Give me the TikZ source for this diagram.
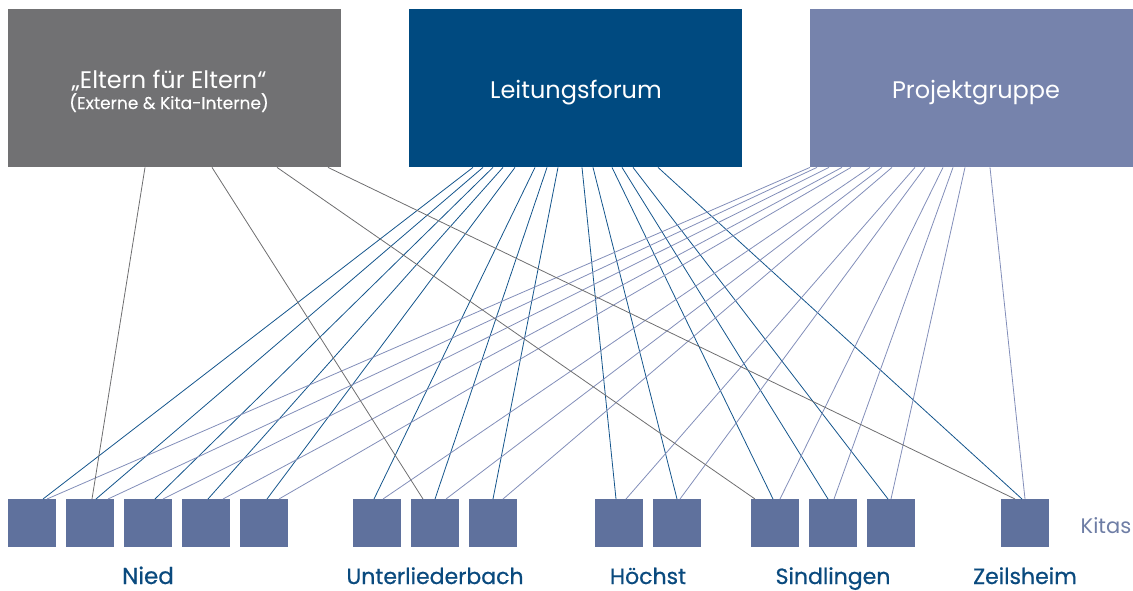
\documentclass[tikz,border=0pt]{standalone}
\usepackage{fontspec}
\setmainfont{Poppins}
\newfontfamily\labfont{Poppins}[FakeBold=0.6]
\newfontfamily\subfont{Poppins}[FakeBold=0.3]
\definecolor{elterncol}{RGB}{113,113,115}
\definecolor{leitcol}{RGB}{0,74,128}
\definecolor{projcol}{RGB}{118,131,172}
\definecolor{kitacol}{RGB}{95,113,157}
\definecolor{labcol}{RGB}{10,74,126}
\definecolor{kitastext}{RGB}{110,125,165}
\definecolor{darkline}{RGB}{20,85,140}
\definecolor{lightline}{RGB}{130,142,185}
\definecolor{greyline}{RGB}{110,110,112}
\tikzset{
  topbox/.style={rectangle, inner sep=0pt, minimum height=158pt, anchor=north west},
  toptext/.style={text=white, inner sep=0pt, anchor=base, font=\fontsize{24}{28}\selectfont},
  kitabox/.style={rectangle, inner sep=0pt, minimum width=48pt, minimum height=48pt, anchor=north west, fill=kitacol},
  placelabel/.style={text=labcol, inner sep=0pt, anchor=base, font=\labfont\fontsize{22}{26}\selectfont},
  lline/.style={draw=darkline, line width=0.8pt},
  pline/.style={draw=lightline, line width=0.8pt},
  eline/.style={draw=greyline, line width=0.8pt},
}
\begin{document}
\begin{tikzpicture}[x=1pt,y=-1pt]
\useasboundingbox (0,0) rectangle (1133,590);
\node[topbox, fill=elterncol, minimum width=333pt] (el) at (8,9) {};
\node[topbox, fill=leitcol, minimum width=333pt] (lf) at (409,9) {};
\node[topbox, fill=projcol, minimum width=323pt] (pg) at (810,9) {};
\node[toptext] (eltxt) at (169,88) {„Eltern für Eltern“};
\node[toptext, font=\subfont\fontsize{17}{20}\selectfont] (elsub) at (169,109) {(Externe \& Kita-Interne)};
\node[toptext] (lftxt) at (576,98) {Leitungsforum};
\node[toptext] (pgtxt) at (976,98) {Projektgruppe};
\foreach \i/\x in {1/8,2/66,3/124,4/182,5/240,6/353,7/411,8/469,9/595,10/653,11/751,12/809,13/867,14/1001}
  \node[kitabox] (k\i) at (\x,499) {};
% Leitungsforum connectors
\foreach \i/\s/\e in {1/64/35,2/74/30,3/84/31,4/94/26,5/106/27,6/126/21,7/138/24,8/149/24,9/173/21,10/184/24,11/203/22,12/213/19,13/224/21,14/249/21}
  \draw[lline] ([xshift=\s pt]lf.south west) -- ([xshift=\e pt]k\i.north west);
% Projektgruppe connectors
\foreach \i/\s/\e in {1/0/39,2/7/42,3/19/39,4/32/41,5/41/39,6/60/30,7/72/35,8/82/34,9/105/31,10/115/27,11/133/29,12/143/25,13/155/24,14/180/24}
  \draw[pline] ([xshift=\s pt]pg.south west) -- ([xshift=\e pt]k\i.north west);
% Eltern connectors
\foreach \i/\s/\e in {2/137/26,7/204/12,11/269/4,14/320/14}
  \draw[eline] ([xshift=\s pt]el.south west) -- ([xshift=\e pt]k\i.north west);
\node[placelabel, font=\labfont\fontsize{23}{26}\selectfont] (nied) at (148,584) {Nied};
\node[placelabel] (ulb) at (435,584) {Unterliederbach};
\node[placelabel] (hoe) at (648,584) {Höchst};
\node[placelabel] (sin) at (833,584) {Sindlingen};
\node[placelabel] (zei) at (1025,584) {Zeilsheim};
\node[placelabel, text=kitastext, font=\fontsize{21}{24}\selectfont] (kitas) at (1106,533) {Kitas};
\end{tikzpicture}
\end{document}
